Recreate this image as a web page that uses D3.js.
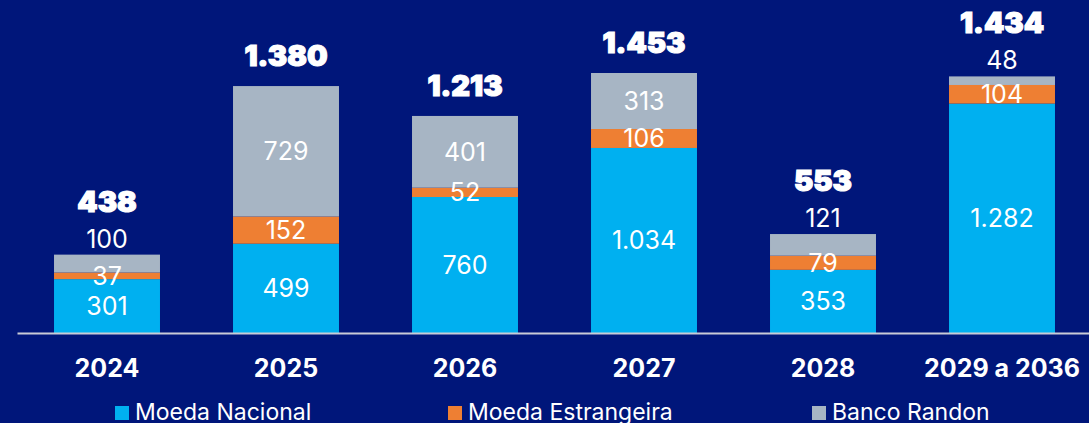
<!DOCTYPE html>
<html>
<head>
<meta charset="utf-8">
<script src="https://cdn.jsdelivr.net/npm/d3@7"></script>
<style>
	html, body {margin: 0; padding: 0; background: #00167a;}
	svg {display: block;}
	text {font-family: Inter, "Noto Sans", sans-serif; fill: #fff;}
</style>
</head>
<body>
<div id="chart"></div>
<script>
//Data
var years = ["2024", "2025", "2026", "2027", "2028", "2029 a 2036"];
var moedaNacional = [301, 499, 760, 1034, 353, 1282];
var moedaEstrangeira = [37, 152, 52, 106, 79, 104];
var bancoRandon = [100, 729, 401, 313, 121, 48];
var seriesNames = ["Moeda Nacional", "Moeda Estrangeira", "Banco Randon"];

var width = 1089, height = 423;
var colors = ["#00b0f0", "#ee7f33", "#a7b5c4"];

//pt-BR number format (1.380)
var fmt = d3.formatLocale({decimal: ",", thousands: ".", grouping: [3], currency: ["R$", ""]}).format(",d");

var svg = d3.select('#chart').append('svg')
	.attr('width', width)
	.attr('height', height);

svg.append('rect')
	.attr('width', width)
	.attr('height', height)
	.attr('fill', '#00167a');

//Scales
var x = d3.scaleBand()
	.domain(years)
	.range([17.5, 17.5 + 6*179])
	.paddingInner(0.408)
	.paddingOuter(0.204);

var y = d3.scaleLinear()
	.domain([0, 1453])
	.range([333, 73]);

//Build rows for stacking
var rows = years.map(function(d, i) {
	return {year: d, nac: moedaNacional[i], est: moedaEstrangeira[i], ban: bancoRandon[i]};
});
var keys = ["nac", "est", "ban"];
var stacked = d3.stack().keys(keys)(rows);

//Bars
var layers = svg.append('g').attr('class', 'bars')
	.selectAll('g')
	.data(stacked)
	.enter().append('g')
		.attr('fill', function(d, i) {return colors[i];});

layers.selectAll('rect')
	.data(function(d) {return d;})
	.enter().append('rect')
		.attr('x', function(d) {return x(d.data.year);})
		.attr('width', x.bandwidth())
		.attr('y', function(d) {return y(d[1]);})
		.attr('height', function(d) {return y(d[0]) - y(d[1]);});

//Axis baseline
svg.append('line')
	.attr('x1', 17.5).attr('x2', width)
	.attr('y1', y(0) + 0.5).attr('y2', y(0) + 0.5)
	.attr('stroke', '#c9cbd6')
	.attr('stroke-width', 2);

//Segment labels
var labels = svg.append('g').attr('class', 'labels');
stacked.forEach(function(layer, li) {
	layer.forEach(function(d) {
		var top = y(d[1]), bottom = y(d[0]);
		var cx = x(d.data.year) + x.bandwidth()/2;
		var ty;
		//small grey segment on top: put the label above the bar
		if (li === 2 && bottom - top < 30)
			ty = top - 7;
		else
			ty = (top + bottom)/2 + 9;
		labels.append('text')
			.attr('x', cx)
			.attr('y', ty)
			.attr('text-anchor', 'middle')
			.style('font-size', '25px')
			.text(fmt(d[1] - d[0]));
	});
});

//Totals
var totals = svg.append('g').attr('class', 'totals');
rows.forEach(function(r) {
	var total = r.nac + r.est + r.ban;
	var top = y(total);
	var outside = y(r.nac + r.est) - top < 30;
	totals.append('text')
		.attr('x', x(r.year) + x.bandwidth()/2)
		.attr('y', outside ? top - 43 : top - 20)
		.attr('text-anchor', 'middle')
		.style('font-size', '29px')
		.style('font-weight', 900)
		.style('stroke', '#fff')
		.style('stroke-width', 1.2)
		.text(fmt(total));
});

//X axis labels
svg.append('g').attr('class', 'xlabels')
	.selectAll('text')
	.data(years)
	.enter().append('text')
		.attr('x', function(d) {return x(d) + x.bandwidth()/2;})
		.attr('y', 377)
		.attr('text-anchor', 'middle')
		.style('font-size', '25px')
		.style('font-weight', 700)
		.text(function(d) {return d;});

//Legend
var legendX = [115, 448, 812];
var legend = svg.append('g').attr('class', 'legend')
	.selectAll('g')
	.data(seriesNames)
	.enter().append('g')
		.attr('transform', function(d, i) {return "translate(" + legendX[i] + ",406)";});
legend.append('rect')
	.attr('width', 14).attr('height', 14)
	.attr('fill', function(d, i) {return colors[i];});
legend.append('text')
	.attr('x', 20)
	.attr('y', 14)
	.style('font-size', '23px')
	.text(function(d) {return d;});
</script>
</body>
</html>
